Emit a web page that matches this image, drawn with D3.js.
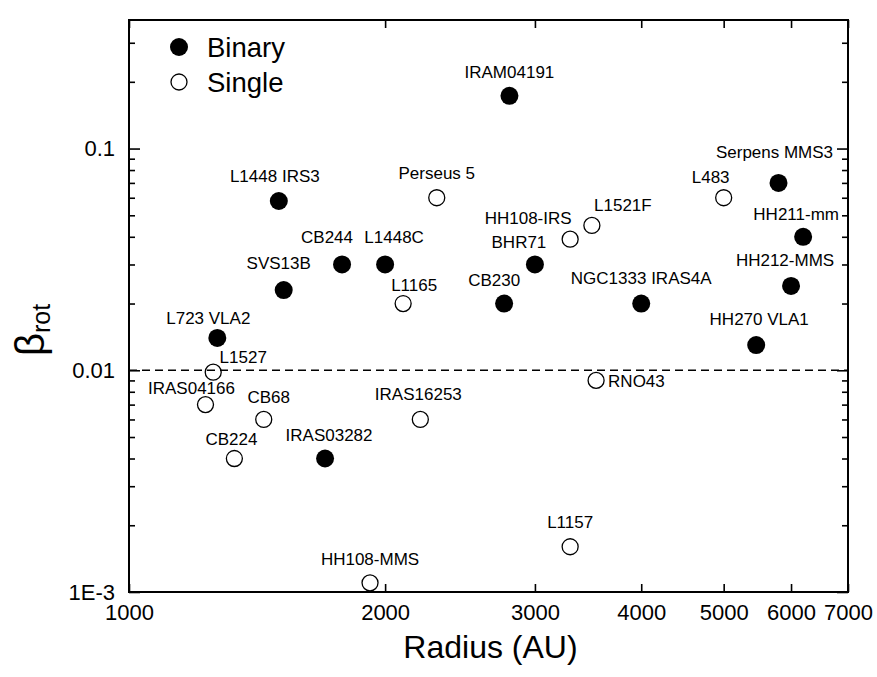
<!DOCTYPE html>
<html>
<head>
<meta charset="utf-8">
<script src="https://cdn.jsdelivr.net/npm/d3@7"></script>
<style>
  html, body { margin: 0; padding: 0; background: #fff; }
  svg { display: block; }
  text { font-family: "Liberation Sans", Arial, sans-serif; fill: #000; }
</style>
</head>
<body>
<svg id="chart" width="877" height="677"></svg>
<script>
// ---------- data ----------
const binaryNames  = ["IRAM04191","L1448 IRS3","CB244","L1448C","SVS13B","L723 VLA2","IRAS03282","CB230","BHR71","NGC1333 IRAS4A","HH270 VLA1","Serpens MMS3","HH211-mm","HH212-MMS"];
const binaryRadius = [2800, 1500, 1780, 2000, 1520, 1270, 1700, 2760, 3000, 4000, 5460, 5800, 6200, 6000];
const binaryBeta   = [0.173, 0.058, 0.030, 0.030, 0.023, 0.014, 0.004, 0.020, 0.030, 0.020, 0.013, 0.070, 0.040, 0.024];

const singleNames  = ["Perseus 5","L1165","HH108-IRS","L1521F","L483","L1527","IRAS04166","CB68","CB224","IRAS16253","RNO43","L1157","HH108-MMS"];
const singleRadius = [2300, 2100, 3300, 3500, 5000, 1256, 1230, 1440, 1330, 2200, 3540, 3300, 1920];
const singleBeta   = [0.060, 0.020, 0.039, 0.045, 0.060, 0.0098, 0.0070, 0.0060, 0.0040, 0.0060, 0.0090, 0.0016, 0.0011];

const xTickValues = [1000, 2000, 3000, 4000, 5000, 6000, 7000];
const xTickLabels = ["1000", "2000", "3000", "4000", "5000", "6000", "7000"];
const yTickValues = [0.001, 0.01, 0.1];
const yTickLabels = ["1E-3", "0.01", "0.1"];
const threshold = 0.01;

// ---------- label placement (layout only) ----------
const labelPlacement = {
  "IRAM04191": [0,-18], "L1448 IRS3": [-4,-19], "CB244": [-15,-21], "L1448C": [9,-21],
  "SVS13B": [-5,-21], "L723 VLA2": [-9,-14], "IRAS03282": [4,-18], "CB230": [-10,-18],
  "BHR71": [-16,-16], "NGC1333 IRAS4A": [0,-20], "HH270 VLA1": [3,-20], "Serpens MMS3": [-4,-25],
  "HH211-mm": [-7,-17], "HH212-MMS": [-6,-20], "Perseus 5": [0,-19], "L1165": [11,-13],
  "HH108-IRS": [-42,-15], "L1521F": [31,-14], "L483": [-13,-15], "L1527": [30,-9],
  "IRAS04166": [-14,-11], "CB68": [5,-16], "CB224": [-3,-14], "IRAS16253": [-2,-19],
  "RNO43": [12,7,"start"], "L1157": [0,-19], "HH108-MMS": [0,-18]
};

// ---------- layout ----------
const L = 129, R = 848, T = 20, B = 592;
const svg = d3.select("#chart");

const x = d3.scaleLog().domain([1000, 7000]).range([L, R]);
const y = d3.scaleLog().domain([0.001, 0.38]).range([B, T]);

const points = [];
binaryNames.forEach((n, i) => points.push({name: n, r: binaryRadius[i], b: binaryBeta[i], type: "Binary"}));
singleNames.forEach((n, i) => points.push({name: n, r: singleRadius[i], b: singleBeta[i], type: "Single"}));

// minor y ticks
const yMinor = [];
[0.001, 0.01, 0.1].forEach(d => { for (let k = 2; k <= 9; k++) { const v = d * k; if (v <= 0.38) yMinor.push(v); } });

function styleAxis(g) {
  g.select(".domain").remove();
  g.selectAll(".tick line").attr("stroke", "#000").attr("stroke-width", 1.6);
}

// bottom axis
svg.append("g").attr("transform", `translate(0,${B})`)
  .call(d3.axisBottom(x).tickValues(xTickValues).tickSize(-8).tickPadding(12)
        .tickFormat((d, i) => xTickLabels[i]))
  .call(styleAxis)
  .call(g => g.selectAll("text").attr("font-size", 22).attr("font-family", '"Liberation Sans", Arial, sans-serif'));

// top axis
svg.append("g").attr("transform", `translate(0,${T})`)
  .call(d3.axisTop(x).tickValues(xTickValues).tickSize(-8).tickFormat(""))
  .call(styleAxis);

// left axis major
svg.append("g").attr("transform", `translate(${L},0)`)
  .call(d3.axisLeft(y).tickValues(yTickValues).tickSize(-11).tickPadding(14)
        .tickFormat((d, i) => yTickLabels[i]))
  .call(styleAxis)
  .call(g => g.selectAll("text").attr("font-size", 22).attr("font-family", '"Liberation Sans", Arial, sans-serif'));

// left axis minor
svg.append("g").attr("transform", `translate(${L},0)`)
  .call(d3.axisLeft(y).tickValues(yMinor).tickSize(-6).tickFormat(""))
  .call(styleAxis);

// right axis major + minor
svg.append("g").attr("transform", `translate(${R},0)`)
  .call(d3.axisRight(y).tickValues(yTickValues).tickSize(-11).tickFormat(""))
  .call(styleAxis);
svg.append("g").attr("transform", `translate(${R},0)`)
  .call(d3.axisRight(y).tickValues(yMinor).tickSize(-6).tickFormat(""))
  .call(styleAxis);

// frame
svg.append("rect").attr("x", L).attr("y", T).attr("width", R - L).attr("height", B - T)
  .attr("fill", "none").attr("stroke", "#000").attr("stroke-width", 2);

// threshold dashed line
svg.append("line")
  .attr("x1", x(1000)).attr("x2", x(7000))
  .attr("y1", y(threshold)).attr("y2", y(threshold))
  .attr("stroke", "#000").attr("stroke-width", 1.4).attr("stroke-dasharray", "8,5");

// points
svg.append("g").selectAll("circle").data(points).join("circle")
  .attr("cx", d => x(d.r)).attr("cy", d => y(d.b))
  .attr("r", d => d.type === "Binary" ? 9 : 8)
  .attr("fill", d => d.type === "Binary" ? "#000" : "none")
  .attr("stroke", "#000").attr("stroke-width", d => d.type === "Binary" ? 0 : 1.3);

// labels
svg.append("g").selectAll("text").data(points).join("text")
  .attr("x", d => x(d.r) + labelPlacement[d.name][0])
  .attr("y", d => y(d.b) + labelPlacement[d.name][1])
  .attr("text-anchor", d => labelPlacement[d.name][2] || "middle")
  .attr("font-size", 17)
  .text(d => d.name);

// legend
const legend = [{label: "Binary", type: "Binary", cy: 47}, {label: "Single", type: "Single", cy: 82}];
const lg = svg.append("g");
lg.selectAll("circle").data(legend).join("circle")
  .attr("cx", 179).attr("cy", d => d.cy)
  .attr("r", d => d.type === "Binary" ? 9 : 8)
  .attr("fill", d => d.type === "Binary" ? "#000" : "none")
  .attr("stroke", "#000").attr("stroke-width", d => d.type === "Binary" ? 0 : 1.3);
lg.selectAll("text").data(legend).join("text")
  .attr("x", 207).attr("y", d => d.cy + 10)
  .attr("font-size", 27.5)
  .text(d => d.label);

// axis titles
svg.append("text").attr("x", (L + R) / 2 + 2).attr("y", 658)
  .attr("text-anchor", "middle").attr("font-size", 32).text("Radius (AU)");

const yt = svg.append("text")
  .attr("transform", `translate(44,330) rotate(-90)`)
  .attr("text-anchor", "middle");
yt.append("tspan").attr("font-size", 40).text("β");
yt.append("tspan").attr("font-size", 25).attr("dy", 6).text("rot");
</script>
</body>
</html>
